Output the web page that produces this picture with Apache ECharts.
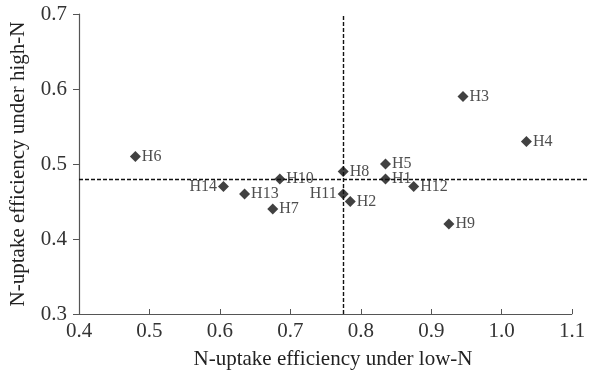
<!DOCTYPE html>
<html>
<head>
<meta charset="utf-8">
<script src="https://cdn.jsdelivr.net/npm/echarts@6/dist/echarts.min.js"></script>
<style>
  html, body { margin: 0; padding: 0; background: #fff; }
  #chart { width: 589px; height: 376px; }
</style>
</head>
<body>
<div id="chart"></div>
<script>
const hybrids = ['H1', 'H2', 'H3', 'H4', 'H5', 'H6', 'H7', 'H8', 'H9', 'H10', 'H11', 'H12', 'H13', 'H14']
const lowN = [0.835, 0.785, 0.945, 1.035, 0.835, 0.48, 0.675, 0.775, 0.925, 0.685, 0.775, 0.875, 0.635, 0.605]
const highN = [0.48, 0.45, 0.59, 0.53, 0.50, 0.51, 0.44, 0.49, 0.42, 0.48, 0.46, 0.47, 0.46, 0.47]
const leftLabels = ['H11', 'H14']
const xTicks = [0.4, 0.5, 0.6, 0.7, 0.8, 0.9, 1.0, 1.1]
const yTicks = [0.3, 0.4, 0.5, 0.6, 0.7]
const meanLowN = 0.775
const meanHighN = 0.48
// horizontal reference line runs a bit past the last x tick
const xLineEnd = 1.121

const font = 'Liberation Serif, Times New Roman, serif'
const axisColor = '#555'

const points = hybrids.map((h, i) => ({
    name: h,
    value: [lowN[i], highN[i]],
    label: { position: leftLabels.includes(h) ? 'left' : 'right' },
}))

const chart = echarts.init(document.getElementById('chart'))
chart.setOption({
    animation: false,
    grid: { left: 78, right: 2, top: 14, bottom: 62 },
    xAxis: {
        type: 'value',
        min: xTicks[0],
        max: xLineEnd,
        name: 'N-uptake efficiency under low-N',
        nameLocation: 'middle',
        nameGap: 35,
        nameTextStyle: { fontFamily: font, fontSize: 21, color: '#222' },
        splitLine: { show: false },
        axisLine: { show: false },
        axisTick: { inside: true, length: 5, customValues: xTicks, lineStyle: { color: axisColor } },
        axisLabel: {
            customValues: xTicks,
            fontFamily: font, fontSize: 21, color: '#333', margin: 7,
            formatter: (v) => v.toFixed(1),
        },
    },
    yAxis: {
        type: 'value',
        min: yTicks[0],
        max: yTicks[yTicks.length - 1],
        interval: 0.1,
        name: 'N-uptake efficiency under high-N',
        nameLocation: 'middle',
        nameGap: 50,
        nameTextStyle: { fontFamily: font, fontSize: 21, color: '#222' },
        splitLine: { show: false },
        axisLine: { lineStyle: { color: axisColor, width: 1.2 } },
        axisTick: { length: 6, lineStyle: { color: axisColor } },
        axisLabel: {
            fontFamily: font, fontSize: 21, color: '#333', margin: 12,
            formatter: (v) => v.toFixed(1),
        },
    },
    series: [{
        type: 'scatter',
        symbol: 'diamond',
        symbolSize: 11,
        itemStyle: { color: '#111' },
        data: points,
        label: {
            show: true,
            formatter: '{b}',
            distance: 1,
            fontFamily: font,
            fontSize: 16,
            color: '#222',
        },
        markLine: {
            silent: true,
            symbol: 'none',
            label: { show: false },
            lineStyle: { color: '#111', type: [4, 2], width: 1.4 },
            data: [
                [{ coord: [xTicks[0], meanHighN] }, { coord: [xLineEnd, meanHighN] }],
                [{ coord: [meanLowN, yTicks[0]] }, { coord: [meanLowN, yTicks[yTicks.length - 1]] }],
                // x axis line, ending at the last tick
                [
                    { coord: [xTicks[0], yTicks[0]], lineStyle: { color: axisColor, type: 'solid', width: 1.2 } },
                    { coord: [xTicks[xTicks.length - 1], yTicks[0]] },
                ],
            ],
        },
    }],
})
</script>
</body>
</html>
